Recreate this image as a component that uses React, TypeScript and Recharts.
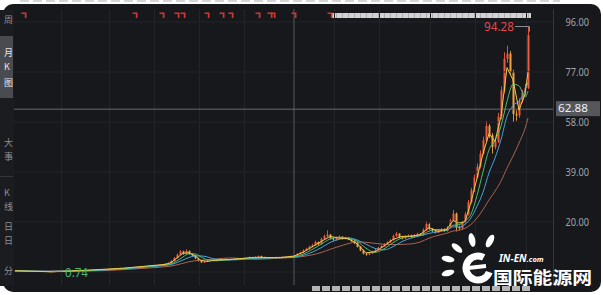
import React from "react";
import {
  ComposedChart,
  Bar,
  Line,
  XAxis,
  YAxis,
  ReferenceLine,
  ReferenceDot,
} from "recharts";

// candles, one slot per period
const opens = [
  1.45, 1.5, 1.42, 1.48, 1.4, 1.34, 1.4, 1.32, 1.3, 1.24,
  1.3, 1.2, 1.1, 0.95, 1.08, 1.2, 1.28, 1.3, 1.38, 1.42,
  1.5, 1.52, 1.6, 1.62, 1.7, 1.72, 1.8, 1.82, 1.9, 2.0,
  1.94, 2.02, 2.1, 2.2, 2.18, 2.4, 2.5, 2.42, 2.6, 2.7,
  2.8, 2.9, 3.0, 3.2, 3.1, 3.3, 3.5, 3.6, 3.5, 3.7,
  3.9, 4.1, 4.4, 5.2, 6.3, 7.6, 8.8, 8.0, 9.0, 7.9,
  7.3, 6.2, 5.3, 4.7, 4.9, 5.4, 5.8, 5.5, 5.3, 5.7,
  6.0, 5.8, 5.6, 5.9, 6.1, 5.9, 6.2, 6.0, 6.3, 6.6,
  6.4, 6.7, 7.0, 6.6, 6.3, 6.2, 6.4, 6.3, 6.6, 6.5,
  6.7, 6.6, 6.8, 7.0, 7.3, 7.9, 8.4, 9.2, 9.8, 10.6,
  11.2, 12.4, 11.6, 13.6, 14.6, 15.2, 13.8, 13.2, 14.0, 14.4,
  13.6, 14.0, 13.4, 12.8, 12.0, 10.6, 9.2, 8.0, 7.6, 8.1,
  8.7, 9.3, 10.2, 10.8, 11.6, 12.3, 13.1, 14.7, 15.6, 14.2,
  13.8, 14.5, 14.9, 14.3, 15.0, 15.5, 15.0, 17.0, 19.2, 17.4,
  16.5, 16.0, 16.9, 17.3, 16.6, 17.9, 20.6, 23.2, 18.0, 17.6,
  19.8, 23.0, 27.5, 32.0, 37.0, 41.0, 46.0, 51.0, 56.5, 53.0,
  48.5, 50.5, 60.0, 70.0, 82.0, 84.0, 77.0, 61.0, 60.5, 66.0,
  69.0, 71.0,
];
const closes = [
  1.5, 1.42, 1.48, 1.4, 1.34, 1.4, 1.32, 1.3, 1.24, 1.3,
  1.2, 1.1, 0.95, 1.08, 1.2, 1.28, 1.3, 1.38, 1.42, 1.5,
  1.52, 1.6, 1.62, 1.7, 1.72, 1.8, 1.82, 1.9, 2.0, 1.94,
  2.02, 2.1, 2.2, 2.18, 2.4, 2.5, 2.42, 2.6, 2.7, 2.8,
  2.9, 3.0, 3.2, 3.1, 3.3, 3.5, 3.6, 3.5, 3.7, 3.9,
  4.1, 4.4, 5.2, 6.3, 7.6, 8.8, 8.0, 9.0, 7.9, 7.3,
  6.2, 5.3, 4.7, 4.9, 5.4, 5.8, 5.5, 5.3, 5.7, 6.0,
  5.8, 5.6, 5.9, 6.1, 5.9, 6.2, 6.0, 6.3, 6.6, 6.4,
  6.7, 7.0, 6.6, 6.3, 6.2, 6.4, 6.3, 6.6, 6.5, 6.7,
  6.6, 6.8, 7.0, 7.3, 7.9, 8.4, 9.2, 9.8, 10.6, 11.2,
  12.4, 11.6, 13.6, 14.6, 15.2, 13.8, 13.2, 14.0, 14.4, 13.6,
  14.0, 13.4, 12.8, 12.0, 10.6, 9.2, 8.0, 7.6, 8.1, 8.7,
  9.3, 10.2, 10.8, 11.6, 12.3, 13.1, 14.7, 15.6, 14.2, 13.8,
  14.5, 14.9, 14.3, 15.0, 15.5, 15.0, 17.0, 19.2, 17.4, 16.5,
  16.0, 16.9, 17.3, 16.6, 17.9, 20.6, 23.2, 18.0, 17.6, 19.8,
  23.0, 27.5, 32.0, 37.0, 41.0, 46.0, 51.0, 56.5, 53.0, 48.5,
  50.5, 60.0, 70.0, 82.0, 84.0, 77.0, 61.0, 60.5, 66.0, 69.0,
  71.0, 91.0,
];
const highs = [
  1.6, 1.58, 1.55, 1.52, 1.46, 1.48, 1.44, 1.4, 1.36, 1.38,
  1.36, 1.26, 1.14, 1.16, 1.28, 1.36, 1.38, 1.46, 1.5, 1.58,
  1.62, 1.68, 1.72, 1.78, 1.82, 1.9, 1.94, 2.0, 2.1, 2.08,
  2.1, 2.2, 2.3, 2.3, 2.5, 2.62, 2.58, 2.7, 2.82, 2.92,
  3.0, 3.12, 3.32, 3.3, 3.42, 3.62, 3.74, 3.7, 3.84, 4.02,
  4.3, 4.6, 5.5, 6.7, 8.0, 9.3, 9.1, 9.6, 9.2, 8.1,
  7.5, 6.4, 5.5, 5.2, 5.6, 6.1, 6.0, 5.7, 5.9, 6.3,
  6.2, 5.9, 6.1, 6.4, 6.3, 6.4, 6.4, 6.5, 6.9, 6.8,
  6.9, 7.3, 7.2, 6.8, 6.5, 6.6, 6.6, 6.8, 6.8, 6.9,
  6.9, 7.0, 7.2, 7.5, 8.2, 8.7, 9.6, 10.2, 11.0, 11.7,
  12.9, 12.6, 14.0, 15.2, 16.8, 15.4, 14.1, 14.4, 14.9, 14.6,
  14.4, 14.2, 13.7, 13.1, 12.3, 10.9, 9.5, 8.3, 8.4, 9.0,
  9.7, 10.6, 11.3, 12.0, 12.7, 13.5, 15.2, 16.3, 15.7, 14.6,
  14.9, 15.3, 15.2, 15.4, 15.9, 15.8, 17.6, 20.3, 19.5, 17.7,
  16.9, 17.3, 17.7, 17.6, 18.4, 21.2, 24.6, 23.6, 18.6, 20.4,
  23.8, 28.4, 33.0, 38.0, 42.2, 47.2, 52.4, 58.4, 57.2, 53.8,
  51.6, 61.5, 71.5, 84.5, 87.0, 85.0, 77.8, 62.4, 67.0, 70.2,
  72.5, 94.28,
];
const lows = [
  1.38, 1.36, 1.36, 1.34, 1.28, 1.3, 1.26, 1.24, 1.18, 1.2,
  1.14, 1.04, 0.74, 0.9, 1.02, 1.14, 1.22, 1.26, 1.32, 1.36,
  1.44, 1.46, 1.54, 1.56, 1.64, 1.66, 1.74, 1.76, 1.84, 1.86,
  1.88, 1.96, 2.04, 2.1, 2.12, 2.32, 2.34, 2.36, 2.52, 2.62,
  2.72, 2.82, 2.92, 3.0, 3.02, 3.22, 3.42, 3.4, 3.44, 3.62,
  3.82, 4.0, 4.3, 5.0, 6.1, 7.4, 7.6, 7.8, 7.6, 7.0,
  5.9, 5.0, 4.4, 4.5, 4.8, 5.2, 5.3, 5.1, 5.2, 5.6,
  5.6, 5.4, 5.5, 5.8, 5.7, 5.8, 5.8, 5.9, 6.2, 6.2,
  6.3, 6.6, 6.4, 6.1, 6.0, 6.1, 6.1, 6.2, 6.3, 6.4,
  6.4, 6.5, 6.7, 6.9, 7.1, 7.7, 8.2, 9.0, 9.5, 10.3,
  11.0, 11.2, 11.4, 13.2, 14.2, 13.4, 12.8, 13.0, 13.7, 13.3,
  13.4, 13.1, 12.5, 11.6, 10.3, 8.9, 7.7, 7.2, 7.5, 7.9,
  8.5, 9.1, 10.0, 10.6, 11.3, 12.0, 12.9, 14.4, 13.9, 13.4,
  13.5, 14.2, 14.0, 14.1, 14.7, 14.7, 14.8, 16.6, 17.0, 16.2,
  15.7, 15.8, 16.6, 16.3, 16.4, 17.6, 20.2, 16.4, 17.0, 17.2,
  19.3, 22.5, 27.0, 31.4, 36.4, 40.3, 45.4, 50.4, 52.0, 46.0,
  47.6, 50.0, 59.0, 69.0, 80.5, 76.0, 58.0, 58.5, 59.6, 65.2,
  68.0, 70.5,
];

// moving-average lines, read at these slots
const maIdx = [
  0, 12, 24, 36, 46, 50, 52, 54, 56, 58, 60, 62, 64, 67, 72, 80, 88, 93, 96, 99,
  102, 105, 108, 111, 114, 117, 120, 123, 126, 129, 132, 135, 138, 141, 144,
  146, 148, 150, 152, 154, 156, 158, 160, 162, 164, 166, 168, 170, 171,
];
const maFast = [
  1.46, 1.08, 1.68, 2.44, 3.47, 3.9, 4.57, 6.37, 8.13, 8.3, 7.13, 5.4, 5.0, 5.53,
  5.77, 6.57, 6.47, 7.03, 8.5, 10.53, 12.53, 14.53, 13.87, 13.67, 11.8, 8.27,
  8.7, 10.87, 13.37, 14.53, 14.57, 15.17, 17.87, 16.47, 17.27, 20.57, 19.6,
  20.13, 27.5, 36.67, 46.0, 53.5, 50.67, 60.17, 78.67, 74.0, 62.5, 68.67, 77.0,
];
const maShort = [
  1.45, 1.18, 1.61, 2.3, 3.28, 3.72, 4.13, 5.25, 6.72, 7.93, 7.87, 6.73, 5.63,
  5.27, 5.72, 6.37, 6.38, 6.82, 7.77, 9.52, 11.53, 13.53, 14.2, 13.77, 12.73,
  10.03, 8.48, 9.78, 12.12, 13.95, 14.55, 14.87, 16.52, 17.17, 16.87, 18.75,
  18.98, 20.37, 22.98, 30.05, 39.08, 47.42, 50.92, 56.42, 65.83, 72.33, 71.75,
  67.42, 69.75,
];
const maMid = [
  1.45, 1.26, 1.5, 2.17, 3.07, 3.49, 3.83, 4.58, 5.55, 6.52, 7.07, 7.11, 6.75,
  5.83, 5.59, 6.17, 6.5, 6.64, 7.3, 8.48, 10.2, 12.2, 13.4, 13.98, 13.18, 11.56,
  9.97, 9.41, 10.64, 12.56, 13.9, 14.75, 15.66, 16.28, 16.98, 18.16, 18.06,
  19.09, 21.62, 25.97, 31.29, 38.68, 44.3, 51.35, 60.15, 64.25, 65.95, 70.05,
  73.15,
];
const maLong = [
  1.45, 1.33, 1.36, 1.89, 2.62, 2.99, 3.25, 3.72, 4.31, 4.89, 5.28, 5.47, 5.67,
  5.97, 6.35, 5.8, 6.27, 6.52, 6.89, 7.5, 8.37, 9.6, 10.72, 11.76, 12.42, 12.29,
  11.89, 11.53, 11.42, 11.5, 11.68, 12.36, 13.86, 14.92, 15.77, 16.57, 16.86,
  17.59, 19.1, 21.48, 24.73, 28.37, 31.7, 35.5, 40.5, 45.0, 50.0, 55.5, 59.5,
];

const priceTicks = [96, 77, 58, 39, 20];
const gridValues = [96, 77, 58, 39, 20, 1];
const yearStarts = [16, 32, 47, 62, 77, 107, 122, 139, 154, 171];
const eventSlots = [3, 40, 49, 54, 56, 64, 69, 72, 81, 85, 86, 93, 105];
const eventLevel = 98.7;
const lastPrice = 62.88;
const cursorSlot = 93;
const maxMark = { slot: 171, value: 94.28 };
const minMark = { slot: 12, value: 0.74 };
const slotCount = 180;

const BG = "#17181c";
const GRID = "#222429";
const UP = "#ee5a3c";
const DOWN = "#f0a23e";
const NUM_FONT = "'Noto Sans', 'DejaVu Sans', sans-serif";
const CJK_FONT = "'Noto Sans CJK SC', sans-serif";

const knotAt = new Map(maIdx.map((s, k) => [s, k]));
const rows = Array.from({ length: slotCount }, (_, i) => {
  const k = knotAt.get(i);
  const has = i < closes.length;
  return {
    i,
    o: has ? opens[i] : null,
    c: has ? closes[i] : null,
    h: has ? highs[i] : null,
    l: has ? lows[i] : null,
    range: has ? [lows[i], highs[i]] : null,
    fast: k != null ? maFast[k] : null,
    short: k != null ? maShort[k] : null,
    mid: k != null ? maMid[k] : null,
    long: k != null ? maLong[k] : null,
  };
});

function Candle(props: any) {
  const { x, y, width, height, payload } = props;
  if (!payload || payload.h == null) return null;
  const top = Math.min(y, y + height);
  const span = Math.abs(height);
  const k = span / (payload.h - payload.l);
  const yo = top + (payload.h - payload.o) * k;
  const yc = top + (payload.h - payload.c) * k;
  const color = payload.c >= payload.o ? UP : DOWN;
  const mid = x + width / 2;
  return (
    <g>
      <line x1={mid} x2={mid} y1={top} y2={top + span} stroke={color} strokeWidth={0.9} />
      <rect
        x={x}
        y={Math.min(yo, yc)}
        width={width}
        height={Math.max(Math.abs(yc - yo), 0.8)}
        fill={color}
      />
    </g>
  );
}

function PriceTick({ x, y, payload }: any) {
  return (
    <text
      x={x}
      y={y}
      dy={4}
      fill="#a2a4a9"
      fontSize={11}
      fontFamily={NUM_FONT}
      textLength={23.5}
      lengthAdjust="spacingAndGlyphs"
    >
      {Number(payload.value).toFixed(2)}
    </text>
  );
}

function EventFlag({ cx, cy }: any) {
  return <path d={`M${cx - 2.5},${cy - 2.5} h5 v5.5 h-1.7 v-3.8 h-3.3 z`} fill="#e0302c" />;
}

function MaxNote({ cx, cy }: any) {
  return (
    <g>
      <polyline
        points={`${cx - 13},${cy} ${cx + 1.5},${cy} ${cx + 1.5},${cy + 5}`}
        fill="none"
        stroke="#8b8e94"
        strokeWidth={1}
      />
      <text
        x={cx - 44}
        y={cy}
        dy={4.5}
        fill="#e5474a"
        fontSize={12.5}
        fontFamily={NUM_FONT}
        textLength={30}
        lengthAdjust="spacingAndGlyphs"
      >
        {maxMark.value.toFixed(2)}
      </text>
    </g>
  );
}

function MinNote({ cx, cy }: any) {
  return (
    <g>
      <line x1={cx + 1} x2={cx + 12} y1={cy - 1.5} y2={cy - 1.5} stroke="#8b8e94" strokeWidth={1} />
      <text
        x={cx + 14}
        y={cy}
        dy={4.5}
        fill="#3fb96b"
        fontSize={12.5}
        fontFamily={NUM_FONT}
        textLength={23}
        lengthAdjust="spacingAndGlyphs"
      >
        {minMark.value.toFixed(2)}
      </text>
    </g>
  );
}

function LastPriceTag({ cx, cy }: any) {
  return (
    <g>
      <rect x={cx + 4} y={cy - 8} width={44} height={15} fill="#55575d" />
      <text
        x={cx + 6}
        y={cy}
        dy={3.2}
        fill="#f0f0f0"
        fontSize={10.5}
        fontFamily={NUM_FONT}
        textLength={30}
        lengthAdjust="spacingAndGlyphs"
      >
        {lastPrice.toFixed(2)}
      </text>
    </g>
  );
}

function SideTabs() {
  const ch = (t: string, top: number, color: string) => (
    <div
      key={t + top}
      style={{
        position: "absolute",
        left: 4,
        top,
        fontSize: 9,
        lineHeight: "10px",
        color,
        fontFamily: CJK_FONT,
      }}
    >
      {t}
    </div>
  );
  return (
    <div
      style={{
        position: "absolute",
        left: 0,
        top: 10,
        width: 14,
        height: 276,
        overflow: "hidden",
        background: "#1b1c20",
      }}
    >
      <div style={{ position: "absolute", left: 0, top: 26, width: 13, height: 62, background: "#4a4b51" }} />
      <div style={{ position: "absolute", left: 0, top: 166, width: 13, height: 1, background: "#33353a" }} />
      {ch("周", 5, "#8e9095")}
      {ch("月", 38, "#e6e6e6")}
      {ch("K", 52, "#e6e6e6")}
      {ch("图", 68, "#e6e6e6")}
      {ch("大", 128, "#8e9095")}
      {ch("事", 142, "#8e9095")}
      {ch("K", 178, "#8e9095")}
      {ch("线", 192, "#8e9095")}
      {ch("日", 212, "#8e9095")}
      {ch("日", 226, "#8e9095")}
      {ch("分", 256, "#8e9095")}
    </div>
  );
}

function Watermark() {
  return (
    <svg width={603} height={295} style={{ position: "absolute", left: 0, top: 0 }}>
      <g fill="#ffffff">
        <ellipse cx={472} cy={240} rx={3.2} ry={7} transform="rotate(-12 472 240)" />
        <ellipse cx={490} cy={241} rx={3.2} ry={7} transform="rotate(28 490 241)" />
        <ellipse cx={457} cy={248} rx={3} ry={6.5} transform="rotate(-50 457 248)" />
        <ellipse cx={448} cy={259} rx={3} ry={6.5} transform="rotate(-80 448 259)" />
        <ellipse cx={448} cy={273} rx={3} ry={6.5} transform="rotate(-105 448 273)" />
      </g>
      <circle
        cx={478}
        cy={268}
        r={12}
        fill="none"
        stroke="#ffffff"
        strokeWidth={7}
        strokeDasharray="58 18"
        transform="rotate(20 478 268)"
      />
      <path d="M468,268 L486,266" stroke="#ffffff" strokeWidth={4} />
      <text x={499} y={262} fill="#ffffff" fontFamily={NUM_FONT} fontWeight={700} fontStyle="italic" fontSize={10}>
        IN-EN<tspan fontSize={7.5}>.com</tspan>
      </text>
      <text
        x={493}
        y={284}
        fill="#ffffff"
        fontFamily={CJK_FONT}
        fontWeight={700}
        fontSize={17}
        textLength={99}
        lengthAdjust="spacingAndGlyphs"
      >
        国际能源网
      </text>
    </svg>
  );
}

export default function App() {
  return (
    <div style={{ position: "absolute", left: 0, top: 0, width: 603, height: 295, background: "#ffffff", overflow: "hidden" }}>
      <div
        style={{
          position: "absolute",
          left: 3,
          top: 4,
          width: 598,
          height: 288,
          background: BG,
          borderRadius: 10,
        }}
      />
      <div
        style={{
          position: "absolute",
          left: 20,
          top: 0,
          width: 540,
          height: 2,
          background: "repeating-linear-gradient(90deg, #b9b9b9 0 9px, transparent 9px 13px)",
          opacity: 0.6,
        }}
      />
      <div
        style={{
          position: "absolute",
          left: 331,
          top: 13,
          width: 200,
          height: 5,
          background: "repeating-linear-gradient(90deg, #d2d2d2 0 5px, #b0b0b0 5px 6px)",
        }}
      />
      <div
        style={{
          position: "absolute",
          left: 312,
          top: 286,
          width: 218,
          height: 5,
          background: "repeating-linear-gradient(90deg, #cfcfcf 0 8px, transparent 8px 10px)",
          opacity: 0.85,
        }}
      />
      <div style={{ position: "absolute", left: 0, top: 0 }}>
        <ComposedChart
          width={603}
          height={295}
          data={rows}
          margin={{ top: 9, right: 0, bottom: 10, left: 13.5 }}
          barGap={0}
        >
          <XAxis dataKey="i" type="category" hide />
          <YAxis
            orientation="right"
            width={49.5}
            domain={[-3.94, 100.94]}
            allowDataOverflow
            ticks={priceTicks}
            tick={<PriceTick />}
            tickLine={false}
            tickSize={6}
            tickMargin={6}
            axisLine={{ stroke: "#34363c" }}
          />
          {gridValues.map((v) => (
            <ReferenceLine key={"h" + v} y={v} stroke={GRID} strokeWidth={1} />
          ))}
          {yearStarts.map((s) => (
            <ReferenceLine key={"v" + s} x={s} position="start" stroke={GRID} strokeWidth={1} />
          ))}
          <ReferenceLine x={cursorSlot} stroke="#56585e" strokeWidth={1} />
          <ReferenceLine y={lastPrice} stroke="#686a70" strokeWidth={1} />
          <Bar dataKey="range" barSize={2} shape={<Candle />} isAnimationActive={false} />
          <Line
            dataKey="long"
            type="monotone"
            stroke="#a8634f"
            strokeWidth={1}
            dot={false}
            connectNulls
            isAnimationActive={false}
          />
          <Line
            dataKey="mid"
            type="monotone"
            stroke="#47a3dc"
            strokeWidth={1}
            dot={false}
            connectNulls
            isAnimationActive={false}
          />
          <Line
            dataKey="short"
            type="monotone"
            stroke="#4cbf6e"
            strokeWidth={1}
            dot={false}
            connectNulls
            isAnimationActive={false}
          />
          <Line
            dataKey="fast"
            type="linear"
            stroke="#ecc94a"
            strokeWidth={1}
            dot={false}
            connectNulls
            isAnimationActive={false}
          />
          {eventSlots.map((s) => (
            <ReferenceDot key={"e" + s} x={s} y={eventLevel} shape={<EventFlag />} />
          ))}
          <ReferenceDot x={maxMark.slot} y={maxMark.value} shape={<MaxNote />} />
          <ReferenceDot x={minMark.slot} y={minMark.value} shape={<MinNote />} />
          <ReferenceDot x={slotCount - 1} y={lastPrice} shape={<LastPriceTag />} />
        </ComposedChart>
      </div>
      <SideTabs />
      <Watermark />
    </div>
  );
}
